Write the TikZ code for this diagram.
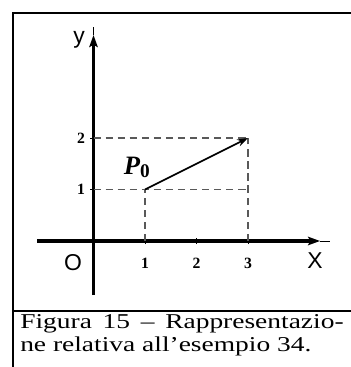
\documentclass[tikz,border=0pt]{standalone}
\usepackage{fontspec}
\setmainfont{Liberation Serif}
\setsansfont{Liberation Sans}
\newfontfamily\capfont[FakeStretch=1.3,Ligatures=TeX]{Liberation Serif}
\usetikzlibrary{arrows.meta,positioning,calc}

\begin{document}
\begin{tikzpicture}[
  x=1.5cm,y=1.5cm,
  frameline/.style={line width=2pt,black},
  axisline/.style={line width=2.5pt,black},
  axistip/.style={line width=0.7pt,black},
  guide/.style={dash pattern=on 6pt off 4pt,line width=0.9pt,black!65},
  vec/.style={-{Stealth[length=9pt,width=6pt]},line width=1.4pt},
  ticklab/.style={font=\bfseries\fontsize{13}{13}\selectfont,inner sep=0pt},
  axlab/.style={font=\sffamily\fontsize{19}{19}\selectfont,inner sep=0pt},
]
\useasboundingbox (-1.816,-2.447) rectangle (4.981,4.680);

% ---- frame ----
\draw[frameline] (-1.563,-2.6) -- (-1.563,4.427) -- (5.1,4.427);
\draw[frameline] (-1.563,-1.359) -- (5.1,-1.359);

% ---- axes ----
\coordinate (xs) at (-1.097,0);
\coordinate (xa) at (4.40,0);
\coordinate (xe) at (4.592,0);
\coordinate (ys) at (0,-1.049);
\coordinate (ya) at (0,4.00);
\coordinate (ye) at (0,4.155);
\draw[axisline,-{Stealth[length=10pt,width=7pt,inset=2pt]}] (xs) -- (xa);
\draw[axistip] (xa) -- (xe);
\draw[axisline,-{Stealth[length=10pt,width=7pt,inset=2pt]}] (ys) -- (ya);
\draw[axistip] (ya) -- (ye);
\foreach \k in {1,2,3}{
  \draw[line width=0.8pt] (\k,-0.06) -- (\k,0.06);
}
\foreach \k in {1,2}{
  \draw[line width=0.8pt] (-0.06,\k) -- (0,\k);
}

% ---- labels ----
\node[axlab] (lo) at (-0.398,-0.421) {O};
\node[axlab] (lx) at (4.30,-0.388) {X};
\node[axlab] (ly) at (-0.282,3.90) {y};
\foreach \k in {1,2,3}{
  \node[ticklab] (tx\k) at (\k,-0.43) {\k};
}
\foreach \k in {1,2}{
  \node[ticklab] (ty\k) at (-0.24,\k) {\k};
}

% ---- guides ----
\coordinate (p0) at (1,1);
\coordinate (p1) at (3,2);
\draw[guide] (0,1) -- (3,1);
\draw[guide] (0,2) -- (p1);
\draw[guide] (1,0) -- (p0);
\draw[guide] (3,0) -- (p1);

% ---- vector ----
\draw[vec] (p0) -- (p1);
\node[inner sep=0pt] (lp) at (0.84,1.43)
  {{\bfseries\itshape\fontsize{22}{22}\selectfont P}\raisebox{-0.5ex}{\bfseries\fontsize{16}{16}\selectfont 0}};

% ---- caption ----
\node[anchor=north west,inner sep=0pt,text width=268pt,align=justify,
      font=\capfont\fontsize{17.5}{18.4}\selectfont] (cap) at (-1.427,-1.43)
  {Figura 15 – Rappresentazio-\linebreak ne relativa all’esempio 34.};
\end{tikzpicture}
\end{document}
